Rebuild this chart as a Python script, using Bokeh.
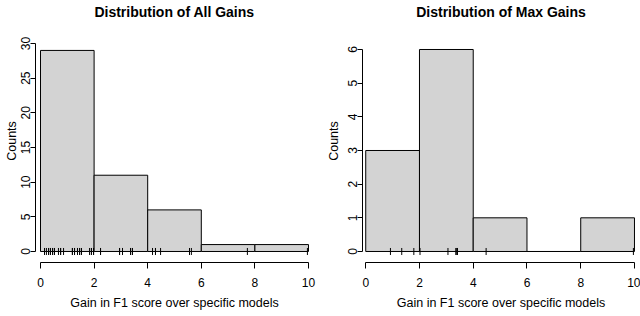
import numpy as np
from bokeh.plotting import figure
from bokeh.layouts import row
from bokeh.models import FixedTicker, Range1d
from bokeh.embed import file_html
from bokeh.resources import INLINE

# ---- data ----
breaks = [0, 2, 4, 6, 8, 10]
all_counts = [29, 11, 6, 1, 1]
max_counts = [3, 6, 1, 0, 1]

all_gains = [0.15, 0.15, 0.22, 0.30, 0.30, 0.37, 0.37, 0.45, 0.45, 0.52, 0.52,
             0.67, 0.75, 0.75, 0.86, 1.19, 1.19, 1.27, 1.27, 1.38, 1.38, 1.46,
             1.46, 1.53, 1.83, 1.90, 1.90, 1.98, 1.98,
             2.24, 2.24, 2.95, 2.95, 3.06, 3.06, 3.06, 3.36, 3.36, 3.43, 3.43,
             4.18, 4.29, 4.29, 4.48, 5.56, 5.63,
             7.72,
             9.96]
max_gains = [0.92, 1.34, 1.79,
             2.02, 3.06, 3.36, 3.36, 3.41, 3.41,
             4.48,
             9.96]

x_ticks = [0, 2, 4, 6, 8, 10]
all_y_ticks = [0, 5, 10, 15, 20, 25, 30]
max_y_ticks = [0, 1, 2, 3, 4, 5, 6]

titles = ["Distribution of All Gains", "Distribution of Max Gains"]
x_label = "Gain in F1 score over specific models"
y_label = "Counts"

FONT = "Liberation Sans"


def make_panel(title, counts, gains, yticks, x_rng, y_rng, width, mb_left,
               mb_right, ylab_standoff):
    p = figure(width=width, height=316,
               x_range=Range1d(*x_rng), y_range=Range1d(*y_rng),
               output_backend="svg", toolbar_location=None,
               min_border_left=mb_left, min_border_right=mb_right,
               min_border_top=19, min_border_bottom=54)
    p.outline_line_color = None
    p.grid.visible = False
    p.background_fill_color = "white"
    p.border_fill_color = "white"

    p.title.text = title
    p.title.align = "center"
    p.title.text_font = FONT
    p.title.text_font_size = "14px"
    p.title.text_font_style = "bold"
    p.title.text_color = "black"
    p.title.standoff = 0

    p.quad(left=breaks[:-1], right=breaks[1:], bottom=0, top=counts,
           fill_color="#d3d3d3", line_color="black", line_width=1)

    p.scatter(x=gains, y=np.zeros(len(gains)), marker="dash",
              angle=np.pi / 2, size=7, line_color="black", line_width=1)

    for ax in (p.xaxis[0], p.yaxis[0]):
        ax.axis_line_color = "black"
        ax.major_tick_line_color = "black"
        ax.major_tick_in = 0
        ax.minor_tick_line_color = None
        ax.major_label_text_font = FONT
        ax.major_label_text_font_size = "12px"
        ax.major_label_text_color = "black"
        ax.axis_label_text_font = FONT
        ax.axis_label_text_font_size = "12.5px"
        ax.axis_label_text_font_style = "normal"
        ax.axis_label_text_color = "black"

    p.xaxis.ticker = FixedTicker(ticks=x_ticks)
    p.xaxis.bounds = (x_ticks[0], x_ticks[-1])
    p.xaxis.axis_label = x_label
    p.xaxis.major_tick_out = 6
    p.xaxis.major_label_standoff = 9
    p.xaxis.axis_label_standoff = 6

    p.yaxis.ticker = FixedTicker(ticks=yticks)
    p.yaxis.bounds = (yticks[0], yticks[-1])
    p.yaxis.axis_label = y_label
    p.yaxis.major_tick_out = 5
    p.yaxis.major_label_orientation = "vertical"
    p.yaxis.major_label_standoff = 0
    p.yaxis.axis_label_standoff = ylab_standoff
    return p


p1 = make_panel(titles[0], all_counts, all_gains, all_y_ticks,
                (-0.187, 10.187), (-1.587, 33.46), 320, 35, 7, 0)
p2 = make_panel(titles[1], max_counts, max_gains, max_y_ticks,
                (-0.12, 10.187), (-0.327, 6.891), 320, 42, 1, 5)

layout = row(p1, p2)
open("out.html", "w").write(file_html(layout, INLINE))
